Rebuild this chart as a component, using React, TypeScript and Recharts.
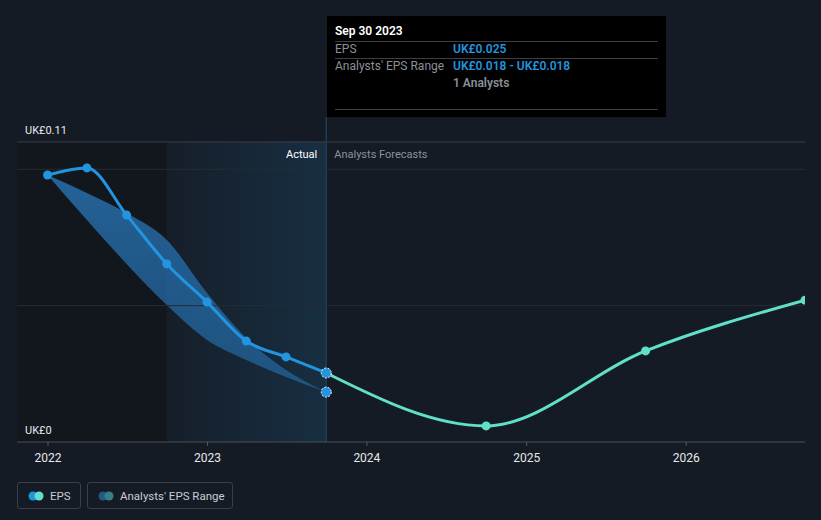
import React from "react";
import {
  ComposedChart,
  Line,
  Area,
  XAxis,
  YAxis,
  ReferenceLine,
  ReferenceArea,
} from "recharts";

// ---- data ----
const actualDates = [
  "2021-12-31",
  "2022-03-31",
  "2022-06-30",
  "2022-09-30",
  "2022-12-31",
  "2023-03-31",
  "2023-06-30",
  "2023-09-30",
];
const actualEps = [0.0979, 0.1005, 0.0832, 0.0653, 0.0513, 0.037, 0.0312, 0.0253];
const rangeLow = [0.0979, 0.0814, 0.0653, 0.0502, 0.0374, 0.0301, 0.0238, 0.0183];
const rangeHigh = [0.0979, 0.0913, 0.084, 0.0741, 0.0546, 0.0381, 0.0264, 0.0183];

const forecastDates = ["2023-09-30", "2024-09-30", "2025-09-30", "2026-09-30"];
const forecastEps = [0.0253, 0.0059, 0.0334, 0.052];

const tickYears = ["2022", "2023", "2024", "2025", "2026"];
const yLabelValues = [0, 0.11];
const gridValues = [0.05, 0.1];
const domainStart = "2021-10-22";
const actualStart = "2022-09-30";
const analystsCount = 1;

// ---- helpers ----
const t = (s: string) => Date.parse(s + "T00:00:00Z");
const MONTHS = ["Jan", "Feb", "Mar", "Apr", "May", "Jun", "Jul", "Aug", "Sep", "Oct", "Nov", "Dec"];
const fmtDate = (s: string) => {
  const d = new Date(t(s));
  return `${MONTHS[d.getUTCMonth()]} ${d.getUTCDate()} ${d.getUTCFullYear()}`;
};
const money = (v: number, digits = 3) => `UK£${v === 0 ? "0" : v.toFixed(digits)}`;

const rowsMap = new Map<number, any>();
const row = (s: string) => {
  const k = t(s);
  if (!rowsMap.has(k)) rowsMap.set(k, { x: k });
  return rowsMap.get(k);
};
actualDates.forEach((d, i) => {
  const r = row(d);
  r.eps = actualEps[i];
  r.range = [rangeLow[i], rangeHigh[i]];
});
forecastDates.forEach((d, i) => {
  row(d).fc = forecastEps[i];
});
row(actualDates[actualDates.length - 1]).lowEnd = rangeLow[rangeLow.length - 1];
const data = Array.from(rowsMap.values()).sort((a, b) => a.x - b.x);

const lastActual = t(actualDates[actualDates.length - 1]);
const domainEnd = t(forecastDates[forecastDates.length - 1]);

const BG = "#151b24";
const BLUE = "#2394df";
const TEAL = "#60e0c8";
const FONT = "Roboto, 'Noto Sans', sans-serif";

const ActualDot = (props: any) => {
  const { cx, cy, payload, index } = props;
  if (cx == null || cy == null) return <g key={`ad${index}`} />;
  if (payload.x === lastActual) {
    return (
      <circle
        key={`ad${index}`}
        cx={cx}
        cy={cy}
        r={5}
        fill={BLUE}
        stroke="#ffffff"
        strokeWidth={1}
        strokeDasharray="2 1.5"
      />
    );
  }
  return <circle key={`ad${index}`} cx={cx} cy={cy} r={4.5} fill={BLUE} />;
};

const FcDot = (props: any) => {
  const { cx, cy, payload, index } = props;
  if (cx == null || cy == null || payload.x === lastActual) return <g key={`fd${index}`} />;
  return <circle key={`fd${index}`} cx={cx} cy={cy} r={4.5} fill={TEAL} />;
};

const LowEndDot = (props: any) => {
  const { cx, cy, index } = props;
  if (cx == null || cy == null) return <g key={`ld${index}`} />;
  return (
    <circle
      key={`ld${index}`}
      cx={cx}
      cy={cy}
      r={5}
      fill={BLUE}
      stroke="#ffffff"
      strokeWidth={1}
      strokeDasharray="2 1.5"
    />
  );
};

const XTick = (props: any) => {
  const { x, y, payload } = props;
  return (
    <g>
      <line x1={x} x2={x} y1={y - 8} y2={y - 4} stroke="#555a62" strokeWidth={1} />
      <text x={x} y={y + 12} textAnchor="middle" fill="#e8e8e8" fontSize={12} fontFamily={FONT}>
        {new Date(payload.value).getUTCFullYear()}
      </text>
    </g>
  );
};

const yLabel = (v: number) => (props: any) => {
  const vb = props.viewBox || {};
  return (
    <text x={(vb.x ?? 17) + 8} y={(vb.y ?? 0) - 8} fill="#e8e8e8" fontSize={11} fontFamily={FONT}>
      {money(v, 2)}
    </text>
  );
};

const splitLabel = (props: any) => {
  const vb = props.viewBox || {};
  const x = vb.x ?? 0;
  const y = (vb.y ?? 0) + 16;
  return (
    <g>
      <text x={x - 9} y={y} textAnchor="end" fill="#ffffff" fontSize={11} fontFamily={FONT}>
        Actual
      </text>
      <text x={x + 8} y={y} textAnchor="start" fill="#8b9098" fontSize={11} fontFamily={FONT}>
        Analysts Forecasts
      </text>
    </g>
  );
};

const LegendItem = ({ label, c1, c2, left, width }: any) => (
  <div
    style={{
      position: "absolute",
      left,
      top: 482,
      width,
      height: 27,
      boxSizing: "border-box",
      border: "1px solid #3a3f48",
      borderRadius: 3,
      display: "flex",
      alignItems: "center",
      whiteSpace: "nowrap",
    }}
  >
    <svg width={20} height={12} style={{ marginLeft: 10, flexShrink: 0 }}>
      <circle cx={5} cy={6} r={4.5} fill={c1} />
      <circle cx={11} cy={6} r={4.5} fill={c2} />
    </svg>
    <span style={{ marginLeft: 2, color: "#c9ccd1", fontSize: 11.5, fontFamily: FONT, whiteSpace: "nowrap" }}>
      {label}
    </span>
  </div>
);

export default function App() {
  const lastIdx = actualDates.length - 1;
  return (
    <div
      style={{
        position: "absolute",
        left: 0,
        top: 0,
        width: 821,
        height: 520,
        background: BG,
        overflow: "hidden",
        fontFamily: FONT,
      }}
    >
      <ComposedChart
        width={821}
        height={520}
        data={data}
        margin={{ top: 142, right: 16, bottom: 48, left: 17 }}
      >
        <defs>
          <linearGradient id="actualBg" x1="0" y1="0" x2="1" y2="0">
            <stop offset="0%" stopColor={BLUE} stopOpacity={0.03} />
            <stop offset="100%" stopColor={BLUE} stopOpacity={0.16} />
          </linearGradient>
          <linearGradient id="bandFill" x1="0" y1="0" x2="0" y2="1">
            <stop offset="0%" stopColor="#2a7bc0" stopOpacity={0.75} />
            <stop offset="100%" stopColor="#2470b0" stopOpacity={0.6} />
          </linearGradient>
        </defs>
        <XAxis
          dataKey="x"
          type="number"
          scale="time"
          domain={[t(domainStart), domainEnd]}
          allowDataOverflow
          ticks={tickYears.map((y) => t(`${y}-01-01`))}
          tick={<XTick />}
          tickLine={false}
          axisLine={{ stroke: "#4a4f57", strokeWidth: 1 }}
          height={30}
          interval={0}
        />
        <YAxis hide domain={[0, 0.11]} allowDataOverflow />
        <ReferenceArea
          x1={t(domainStart)}
          x2={t(actualStart)}
          y1={0}
          y2={0.11}
          fill="#000000"
          fillOpacity={0.14}
          stroke="none"
        />
        <ReferenceArea
          x1={t(actualStart)}
          x2={lastActual}
          y1={0}
          y2={0.11}
          fill="url(#actualBg)"
          fillOpacity={1}
          stroke="none"
        />
        {gridValues.map((v) => (
          <ReferenceLine key={v} y={v} stroke="#262c35" strokeWidth={1} />
        ))}
        <ReferenceLine y={yLabelValues[1]} stroke="#3a3f48" strokeWidth={1} label={yLabel(yLabelValues[1])} />
        <ReferenceLine y={yLabelValues[0]} stroke="none" label={yLabel(yLabelValues[0])} />
        <ReferenceLine
          segment={[
            { x: lastActual, y: 0 },
            { x: lastActual, y: 0.1192 },
          ]}
          ifOverflow="visible"
          stroke="#1e3d58"
          strokeWidth={1.5}
        />
        <ReferenceLine x={lastActual} stroke="none" label={splitLabel} />
        <Area
          dataKey="range"
          type="monotone"
          stroke="none"
          fill="url(#bandFill)"
          fillOpacity={1}
          isAnimationActive={false}
          dot={false}
          activeDot={false}
        />
        <Line
          dataKey="fc"
          type="monotone"
          stroke={TEAL}
          strokeWidth={3}
          dot={<FcDot />}
          activeDot={false}
          isAnimationActive={false}
        />
        <Line
          dataKey="eps"
          type="monotone"
          stroke={BLUE}
          strokeWidth={3}
          dot={<ActualDot />}
          activeDot={false}
          isAnimationActive={false}
        />
        <Line
          dataKey="lowEnd"
          stroke="none"
          dot={<LowEndDot />}
          activeDot={false}
          isAnimationActive={false}
        />
      </ComposedChart>

      {/* tooltip */}
      <div
        style={{
          position: "absolute",
          left: 327,
          top: 16,
          width: 339,
          height: 101,
          background: "#000000",
          fontSize: 12,
          color: "#8b9098",
        }}
      >
        <div style={{ position: "absolute", left: 8, top: 8, color: "#ffffff", fontWeight: 600 }}>
          {fmtDate(actualDates[lastIdx])}
        </div>
        <div style={{ position: "absolute", left: 8, right: 8, top: 25, borderTop: "1px solid #3c3f44" }} />
        <div style={{ position: "absolute", left: 8, top: 26 }}>EPS</div>
        <div style={{ position: "absolute", left: 126, top: 26, color: BLUE, fontWeight: 600 }}>
          {money(actualEps[lastIdx])}
        </div>
        <div style={{ position: "absolute", left: 8, right: 8, top: 42, borderTop: "1px solid #3c3f44" }} />
        <div style={{ position: "absolute", left: 8, top: 43 }}>Analysts' EPS Range</div>
        <div style={{ position: "absolute", left: 126, top: 43, color: BLUE, fontWeight: 600 }}>
          {money(rangeLow[lastIdx])} - {money(rangeHigh[lastIdx])}
        </div>
        <div style={{ position: "absolute", left: 126, top: 60, fontWeight: 600 }}>
          {analystsCount} Analysts
        </div>
        <div style={{ position: "absolute", left: 8, right: 8, top: 93, borderTop: "1px solid #3c3f44" }} />
      </div>

      <LegendItem label="EPS" c1={BLUE} c2={TEAL} left={17} width={64} />
      <LegendItem label="Analysts' EPS Range" c1="#1f5a8a" c2="#3a7f80" left={87} width={146} />
    </div>
  );
}
